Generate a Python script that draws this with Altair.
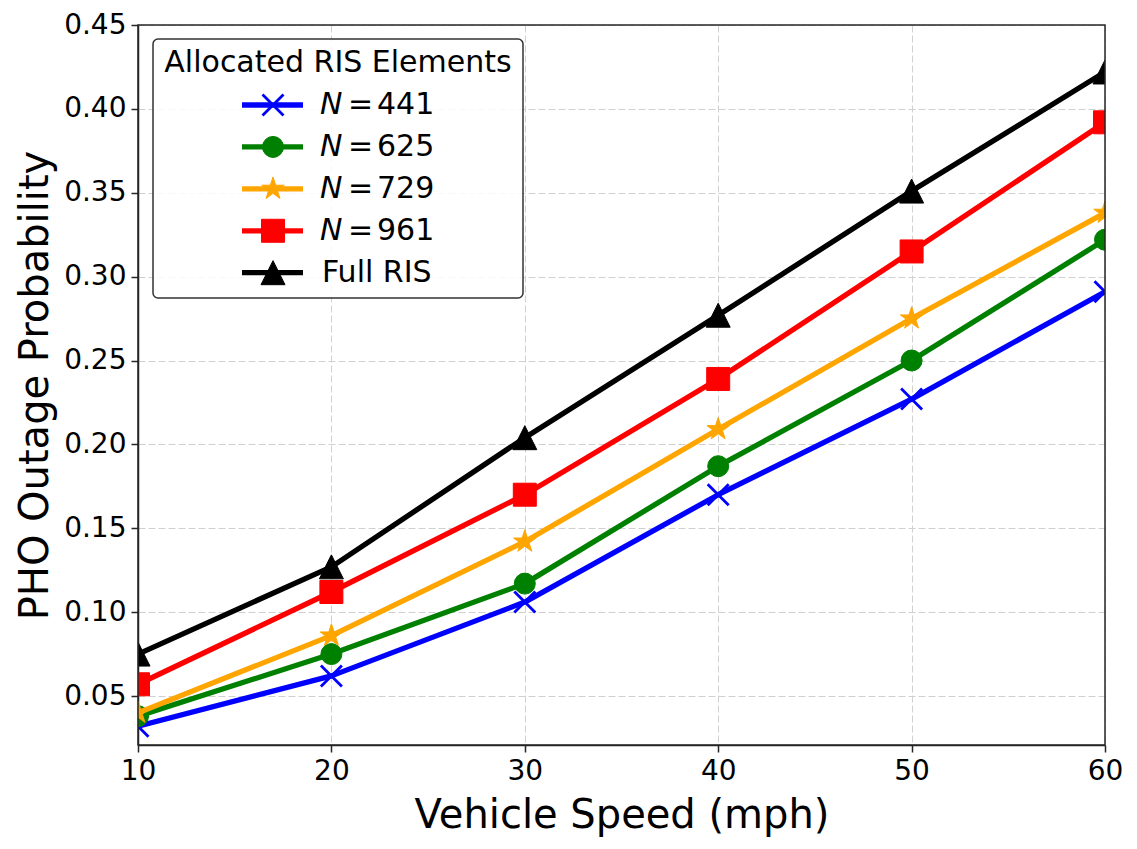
import math
import altair as alt
import pandas as pd

speeds = [10, 20, 30, 40, 50, 60]
series_names = ["N = 441", "N = 625", "N = 729", "N = 961", "Full RIS"]
p441 = [0.032, 0.062, 0.106, 0.170, 0.227, 0.291]
p625 = [0.038, 0.075, 0.117, 0.187, 0.250, 0.322]
p729 = [0.040, 0.086, 0.142, 0.209, 0.275, 0.338]
p961 = [0.057, 0.112, 0.170, 0.239, 0.315, 0.392]
pfull = [0.075, 0.127, 0.204, 0.277, 0.351, 0.422]
series_values = [p441, p625, p729, p961, pfull]
legend_numbers = ["441", "625", "729", "961", None]
legend_title = "Allocated RIS Elements"
x_title = "Vehicle Speed (mph)"
y_title = "PHO Outage Probability"
y_ticks = [0.05, 0.10, 0.15, 0.20, 0.25, 0.30, 0.35, 0.40, 0.45]
x_ticks = [10, 20, 30, 40, 50, 60]

colors = ["#0000ff", "#008000", "#ffa500", "#ff0000", "#000000"]

# marker shapes
def star_path(n=5, inner=0.381966):
    pts = []
    for k in range(2 * n):
        r = 1.0 if k % 2 == 0 else inner
        a = math.pi / 2 + k * math.pi / n
        pts.append((r * math.cos(a), -r * math.sin(a)))
    return "M" + "L".join(f"{x:.4f},{y:.4f}" for x, y in pts) + "Z"

x_path = "M-1,-1L1,1M1,-1L-1,1"
tri_path = "M0,-1L-1,1L1,1Z"
shapes = [x_path, "circle", star_path(), "square", tri_path]
sizes = [441, 441, 560, 529, 576]
filled = [False, True, True, True, True]

FONT = "DejaVu Sans"
W, H = 967, 720
LW = 5.3
LFS = 30

x_scale = alt.Scale(domain=[10, 60], nice=False, zero=False)
y_scale = alt.Scale(domain=[0.0208, 0.45], nice=False, zero=False)

x_axis = alt.Axis(values=x_ticks, title=x_title, format="d")
y_axis = alt.Axis(values=y_ticks, title=y_title, format=".2f")

main_layers = []
legend_layers = []

for i, (name, vals) in enumerate(zip(series_names, series_values)):
    df = pd.DataFrame({"speed": speeds, "prob": vals, "series": name})
    base = alt.Chart(df).encode(
        x=alt.X("speed:Q", scale=x_scale, axis=x_axis),
        y=alt.Y("prob:Q", scale=y_scale, axis=y_axis),
    )
    main_layers.append(
        base.mark_line(color=colors[i], strokeWidth=LW, strokeJoin="round", clip=True)
    )
    if filled[i]:
        pt = dict(filled=True, fill=colors[i], stroke=colors[i], strokeWidth=1, opacity=1)
    else:
        pt = dict(filled=False, stroke=colors[i], strokeWidth=2.8, opacity=1)
    main_layers.append(
        base.mark_point(shape=shapes[i], size=sizes[i], clip=True, **pt)
    )

    ldf = pd.DataFrame({"idx": [i], "series": [name]})
    ly = alt.Y("idx:Q", scale=alt.Scale(domain=[0, 4], range=[80, 247.7]), axis=None)
    lbase = alt.Chart(ldf)
    legend_layers.append(
        lbase.mark_rule(color=colors[i], strokeWidth=LW).encode(
            x=alt.value(104), x2=alt.value(165), y=ly
        )
    )
    legend_layers.append(
        lbase.mark_point(shape=shapes[i], size=sizes[i], **pt).encode(
            x=alt.value(135), y=ly
        )
    )
    if legend_numbers[i] is not None:
        legend_layers.append(
            lbase.mark_text(
                font=FONT, fontSize=LFS, fontStyle="italic", align="left",
                baseline="middle", color="black"
            ).encode(x=alt.value(182), y=ly, text=alt.value("N"))
        )
        legend_layers.append(
            lbase.mark_text(
                font=FONT, fontSize=LFS, align="left", baseline="middle", color="black"
            ).encode(x=alt.value(210), y=ly, text=alt.value("="))
        )
        legend_layers.append(
            lbase.mark_text(
                font=FONT, fontSize=LFS, align="left", baseline="middle", color="black"
            ).encode(x=alt.value(239), y=ly, text=alt.value(legend_numbers[i]))
        )
    else:
        legend_layers.append(
            lbase.mark_text(
                font=FONT, fontSize=LFS, align="left", baseline="middle", color="black"
            ).encode(x=alt.value(184), y=ly, text=alt.value(name))
        )

# legend box & title (drawn under legend entries)
box_df = pd.DataFrame({"k": [0]})
legend_box = alt.Chart(box_df).mark_rect(
    fill="white", fillOpacity=0.85, stroke="#333333", strokeWidth=1.5, cornerRadius=5
).encode(x=alt.value(15), x2=alt.value(385), y=alt.value(14), y2=alt.value(273))
legend_head = alt.Chart(box_df).mark_text(
    font=FONT, fontSize=LFS, align="center", baseline="middle", color="black"
).encode(x=alt.value(200), y=alt.value(38), text=alt.value(legend_title))

frame = alt.Chart(box_df).mark_rect(
    fill="transparent", stroke="#262626", strokeWidth=1.5
).encode(x=alt.value(0), x2=alt.value(W), y=alt.value(0), y2=alt.value(H))

main = alt.layer(*main_layers)
legend = alt.layer(legend_box, legend_head, *legend_layers, frame)

chart = (
    alt.layer(main, legend)
    .resolve_scale(y="independent")
    .properties(
        width=W,
        height=H,
        autosize=alt.AutoSizeParams(type="none"),
        padding={"left": 138, "top": 25, "right": 32, "bottom": 104},
        background="white",
    )
    .configure_view(stroke=None)
    .configure_axis(
        labelFont=FONT,
        titleFont=FONT,
        labelFontSize=28,
        titleFontSize=40,
        titleFontWeight="normal",
        labelColor="black",
        titleColor="black",
        labelFlush=False,
        domainColor="#262626",
        domainWidth=1.5,
        tickColor="#262626",
        tickWidth=1.5,
        tickSize=7,
        labelPadding=5,
        grid=True,
        gridColor="#d0d0d0",
        gridDash=[7, 3],
        gridWidth=1,
    )
    .configure_axisX(titlePadding=10)
    .configure_axisY(titlePadding=8)
)

chart.save("out.html", embed_options={"renderer": "svg", "actions": False})
